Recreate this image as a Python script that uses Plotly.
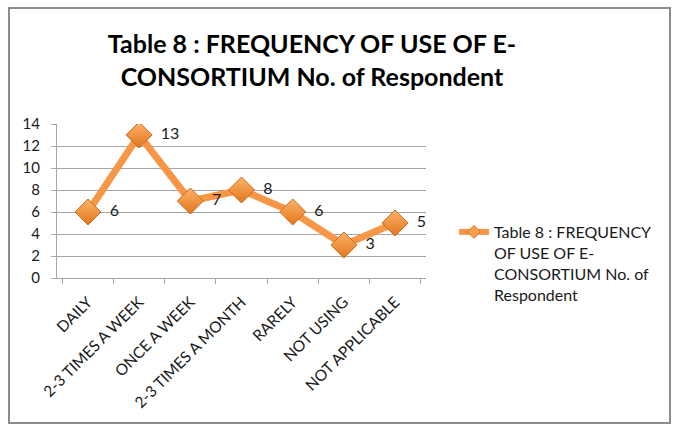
import plotly.graph_objects as go

categories = ["DAILY", "2-3 TIMES A WEEK", "ONCE A WEEK", "2-3 TIMES A MONTH",
              "RARELY", "NOT USING", "NOT APPLICABLE"]
respondents = [6, 13, 7, 8, 6, 3, 5]
y_ticks = [0, 2, 4, 6, 8, 10, 12, 14]
series_name = "Table 8 : FREQUENCY<br>OF USE OF E-<br>CONSORTIUM No. of<br>Respondent"
title_text = "Table 8 : FREQUENCY OF USE OF E-<br>CONSORTIUM No. of Respondent"

W, H = 673, 424
L, R, T, B = 57, 426, 124, 278
pw, ph = R - L, B - T
FONT = "Lato, Carlito, sans-serif"
ORANGE = "#F79646"

def px(x):
    return (x - L) / pw

def py(y):
    return (B - y) / ph

fig = go.Figure()
fig.add_trace(go.Scatter(
    x=categories, y=respondents, mode="lines+markers+text",
    name=series_name, showlegend=False,
    text=["  " + str(v) for v in respondents],
    textposition="middle right",
    textfont=dict(family=FONT, size=16, color="#1a1a1a"),
    line=dict(color=ORANGE, width=7),
    marker=dict(symbol="diamond", size=20, color="#FDB46A",
                gradient=dict(type="vertical", color="#E2761C"),
                line=dict(color="#C76A1C", width=1)),
))
# legend entry (smaller legend symbol, as in the original)
fig.add_trace(go.Scatter(
    x=[None], y=[None], mode="lines+markers", name=series_name,
    line=dict(color=ORANGE, width=6),
    marker=dict(symbol="diamond", size=10, color="#F5A04F",
                line=dict(color="#D97A26", width=1)),
))

fig.update_layout(
    width=W, height=H,
    margin=dict(l=L, r=W - R, t=T, b=H - B, autoexpand=False),
    paper_bgcolor="white", plot_bgcolor="white",
    font=dict(family=FONT, color="#1a1a1a"),
    title=dict(text=title_text, x=312 / W, xanchor="center",
               y=1 - 53 / H, yanchor="top", yref="container",
               font=dict(family=FONT, size=25, color="#000000", weight="bold")),
    showlegend=True,
    legend=dict(x=px(454), xanchor="left", y=py(215), yanchor="top", valign="top",
                font=dict(size=16, color="#1a1a1a"), bgcolor="rgba(0,0,0,0)",
                tracegroupgap=0),
    shapes=[dict(type="rect", xref="paper", yref="paper",
                 x0=px(9), x1=px(670), y0=py(423), y1=py(8),
                 line=dict(color="#8c8c8c", width=2), layer="below")],
)
fig.update_xaxes(
    type="category", automargin=False, showgrid=False, showline=True,
    linecolor="#a6a6a6", linewidth=1,
    ticks="outside", tickson="boundaries", ticklen=5, tickcolor="#a6a6a6",
    tickangle=-45, tickfont=dict(size=15.5, color="#1a1a1a"), ticklabelstandoff=8,
)
fig.update_yaxes(
    range=[0, 14], tickvals=y_ticks, automargin=False, showgrid=True,
    gridcolor="#a6a6a6", gridwidth=1,
    showline=True, linecolor="#a6a6a6", ticks="outside", ticklen=5, tickcolor="#a6a6a6",
    tickfont=dict(size=15, color="#1a1a1a"), zeroline=False, ticklabelstandoff=8,
)

fig.write_html("out.html", config={"displayModeBar": False},
               post_script="document.body.style.margin='0';")
